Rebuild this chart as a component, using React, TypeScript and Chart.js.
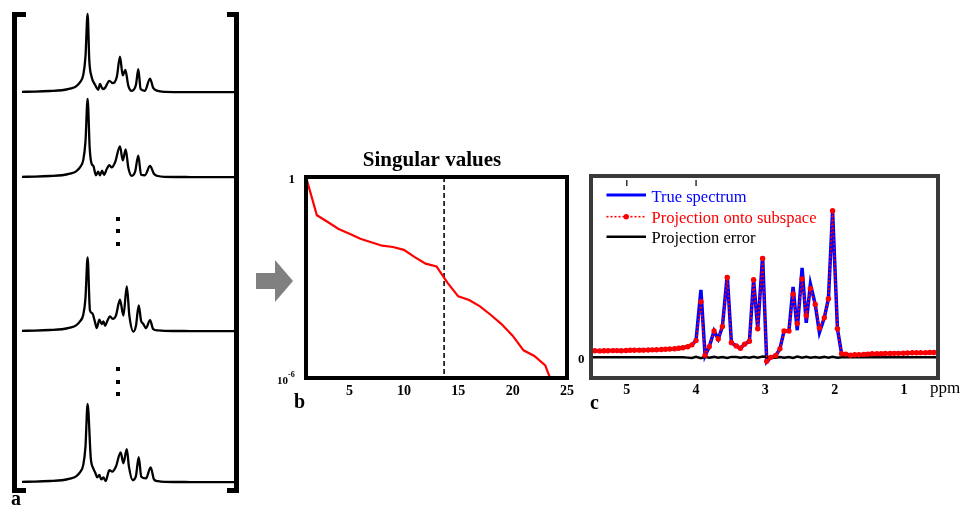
import React, { useEffect, useRef } from "react";
import { Chart, registerables } from "chart.js";

Chart.register(...registerables);

const SERIF = '"Liberation Serif", "Times New Roman", Times, serif';

// ---------------- Panel a: example spectra (frequency index 0..100, normalised amplitude) ----------------
const specX1 = [0, 6.1, 13.1, 18.8, 22.5, 25.4, 27.2, 28.8, 29.8, 30.8, 31.6, 32.7, 34.3, 35.8, 36.6, 37.9, 39.0, 41.0, 42.6, 44.5, 46.0, 47.3, 48.5, 49.9, 51.5, 53.5, 54.6, 55.7, 57.7, 60.1, 61.6, 63.4, 67.1, 78.9, 100];
const specY1 = [0, 0.003, 0.01, 0.02, 0.04, 0.07, 0.12, 0.22, 0.45, 1.0, 0.40, 0.19, 0.09, 0.026, 0.10, 0.035, 0.05, 0.14, 0.11, 0.19, 0.45, 0.21, 0.28, 0.08, 0.013, 0.09, 0.29, 0.035, 0.013, 0.17, 0.05, 0.015, 0, -0.003, -0.005];

const specX2 = [0, 6.1, 13.1, 18.8, 22.5, 25.4, 27.2, 28.8, 29.8, 30.8, 31.8, 32.7, 33.5, 34.7, 35.8, 36.6, 37.6, 38.5, 39.8, 41.0, 42.1, 43.7, 46.0, 47.3, 48.7, 49.9, 51.5, 53.1, 54.6, 55.9, 57.7, 60.1, 62.0, 63.8, 67.1, 78.9, 100];
const specY2 = [0, 0.003, 0.01, 0.02, 0.04, 0.07, 0.12, 0.22, 0.45, 1.0, 0.36, 0.165, 0.14, 0.02, 0.065, 0.02, 0.078, 0.026, 0.10, 0.15, 0.12, 0.186, 0.39, 0.21, 0.35, 0.12, 0.013, 0.065, 0.27, 0.026, 0.02, 0.14, 0.035, 0.01, 0, -0.003, -0.005];

const specX3 = [0, 6.1, 13.1, 18.8, 22.5, 25.4, 27.2, 28.8, 29.8, 30.8, 31.9, 33.0, 34.3, 35.1, 36.3, 37.4, 38.2, 39.0, 40.1, 41.3, 42.6, 44.1, 46.0, 47.6, 49.2, 50.4, 52.3, 53.5, 54.8, 55.9, 57.0, 58.2, 60.1, 61.6, 63.8, 67.1, 78.9, 100];
const specY3 = [0, 0.003, 0.01, 0.02, 0.04, 0.07, 0.12, 0.21, 0.42, 0.94, 0.26, 0.225, 0.108, 0.035, 0.143, 0.087, 0.121, 0.065, 0.13, 0.186, 0.152, 0.195, 0.398, 0.195, 0.57, 0.195, -0.01, 0.065, 0.325, 0.13, 0.087, 0.035, 0.138, 0.022, 0.005, 0, -0.003, -0.005];

const specX4 = [0, 6.1, 13.1, 18.8, 22.5, 25.4, 27.2, 28.8, 29.8, 30.8, 32.3, 33.5, 34.4, 35.3, 36.3, 37.2, 38.2, 39.3, 41.0, 42.4, 44.1, 46.3, 47.6, 49.2, 50.2, 52.0, 53.5, 54.8, 56.0, 58.2, 60.4, 62.0, 63.8, 67.1, 78.9, 100];
const specY4 = [0, 0.003, 0.01, 0.02, 0.04, 0.07, 0.12, 0.22, 0.45, 1.0, 0.30, 0.17, 0.117, 0.056, 0.087, 0.03, 0.056, 0.01, 0.15, 0.13, 0.195, 0.377, 0.238, 0.42, 0.195, 0.02, 0.074, 0.316, 0.065, 0.043, 0.186, 0.03, 0.008, 0, -0.003, -0.005];

// ---------------- Panel b: singular values ----------------
const svIndex = [1, 2, 3, 4, 5, 6, 7, 8, 9, 10, 11, 12, 13, 14, 15, 16, 17, 18, 19, 20, 21, 22, 23, 24];
const singularValues = [1, 0.0724, 0.0454, 0.0281, 0.0201, 0.0144, 0.0113, 0.00891, 0.00813, 0.0067, 0.00407, 0.00259, 0.00213, 0.000701, 0.000274, 0.000213, 0.000138, 7.6e-5, 4.0e-5, 1.84e-5, 6.7e-6, 4.54e-6, 2.39e-6, 3.3e-7];
const svCutoff = 13.7;
const svXTicks = [5, 10, 15, 20, 25];
const svTitle = "Singular values";

// ---------------- Panel c: spectrum vs projection ----------------
const ppm = [5.52, 5.46, 5.39, 5.33, 5.27, 5.20, 5.14, 5.08, 5.01, 4.95, 4.89, 4.82, 4.76, 4.69, 4.63, 4.57, 4.50, 4.44, 4.38, 4.31, 4.25, 4.19, 4.12, 4.06, 4.00, 3.93, 3.87, 3.81, 3.74, 3.68, 3.62, 3.55, 3.49, 3.42, 3.36, 3.30, 3.23, 3.17, 3.11, 3.04, 2.98, 2.92, 2.85, 2.79, 2.73, 2.66, 2.60, 2.54, 2.47, 2.41, 2.35, 2.28, 2.22, 2.15, 2.09, 2.03, 1.96, 1.90, 1.84, 1.77, 1.71, 1.65, 1.58, 1.52, 1.46, 1.39, 1.33, 1.27, 1.20, 1.14, 1.08, 1.01, 0.95, 0.88, 0.82, 0.76, 0.69, 0.63, 0.57, 0.50];
const projection = [0.045, 0.045, 0.044, 0.045, 0.045, 0.046, 0.046, 0.045, 0.047, 0.048, 0.048, 0.049, 0.049, 0.050, 0.051, 0.052, 0.053, 0.055, 0.057, 0.059, 0.062, 0.065, 0.072, 0.085, 0.115, 0.38, 0.015, 0.072, 0.18, 0.125, 0.21, 0.545, 0.10, 0.078, 0.062, 0.09, 0.11, 0.53, 0.195, 0.675, -0.027, 0.0, 0.012, 0.058, 0.18, 0.18, 0.43, 0.23, 0.535, 0.285, 0.47, 0.36, 0.2, 0.27, 0.4, 1.0, 0.195, 0.024, 0.022, 0.015, 0.018, 0.018, 0.02, 0.022, 0.024, 0.025, 0.025, 0.026, 0.026, 0.027, 0.027, 0.028, 0.030, 0.031, 0.031, 0.032, 0.032, 0.033, 0.033, 0.034];
const trueSpectrum = [0.045, 0.045, 0.044, 0.045, 0.045, 0.046, 0.046, 0.045, 0.047, 0.048, 0.048, 0.049, 0.049, 0.050, 0.051, 0.052, 0.053, 0.055, 0.057, 0.059, 0.062, 0.065, 0.072, 0.085, 0.115, 0.46, 0.012, 0.072, 0.18, 0.125, 0.21, 0.56, 0.10, 0.078, 0.062, 0.09, 0.11, 0.53, 0.195, 0.69, -0.03, 0.0, 0.012, 0.058, 0.18, 0.18, 0.48, 0.185, 0.61, 0.235, 0.50, 0.36, 0.17, 0.27, 0.4, 1.0, 0.195, 0.024, 0.022, 0.015, 0.018, 0.018, 0.02, 0.022, 0.024, 0.025, 0.025, 0.026, 0.026, 0.027, 0.027, 0.028, 0.030, 0.031, 0.031, 0.032, 0.032, 0.033, 0.033, 0.034];
const projError = [0, 0, 0, 0, 0, 0, 0, 0, 0, 0, 0, 0, 0, 0, 0, 0, 0, 0, 0, 0, 0, 0, -0.002, -0.004, 0.003, -0.006, 0.004, -0.002, 0.003, -0.003, 0.002, -0.004, 0.003, 0.002, -0.002, 0.002, -0.003, 0.004, -0.002, 0.005, 0.004, -0.001, -0.002, 0.002, -0.003, 0.002, -0.004, 0.005, -0.003, 0.004, -0.003, 0.002, -0.002, 0.003, -0.002, 0.004, -0.003, 0.001, 0, 0, 0, 0, 0, 0, 0, 0, 0, 0, 0, 0, 0, 0, 0, 0, 0, 0, 0, 0, 0, 0];
const ppmTicks = [5, 4, 3, 2, 1];
const ppmTopTicks = [5, 4];
const legendLabels = ["True spectrum", "Projection onto subspace", "Projection error"];

const RED = "#ff0000";
const BLUE = "#0000ff";

// ---------------- helpers ----------------
function ChartBox({ left, top, width, height, config }: { left: number; top: number; width: number; height: number; config: () => any }) {
  const ref = useRef<HTMLCanvasElement | null>(null);
  useEffect(() => {
    if (!ref.current) return;
    const chart = new Chart(ref.current, config());
    return () => chart.destroy();
  }, []);
  return (
    <canvas
      ref={ref}
      width={width}
      height={height}
      style={{ position: "absolute", left, top, width, height, display: "block" }}
    />
  );
}

const UNIT = 78; // px per unit amplitude for panel a spectra
const SPEC_PAD = 4;
const SPEC_AREA_H = 94;
const SPEC_YMAX = 1.1;

function spectrumConfig(xs: number[], ys: number[]) {
  return {
    type: "line",
    data: {
      datasets: [
        {
          data: xs.map((x, i) => ({ x, y: ys[i] })),
          borderColor: "#000",
          borderWidth: 2.3,
          pointRadius: 0,
          cubicInterpolationMode: "monotone",
          clip: false,
        },
      ],
    },
    options: {
      animation: false,
      responsive: false,
      devicePixelRatio: 1,
      events: [],
      layout: { padding: SPEC_PAD },
      plugins: { legend: { display: false }, tooltip: { enabled: false } },
      scales: {
        x: { type: "linear", min: 0, max: 100, display: false },
        y: { type: "linear", min: SPEC_YMAX - SPEC_AREA_H / UNIT, max: SPEC_YMAX, display: false },
      },
    },
  };
}

function Spectrum({ xs, ys, baseline }: { xs: number[]; ys: number[]; baseline: number }) {
  const top = Math.round(baseline - SPEC_YMAX * UNIT - SPEC_PAD);
  return <ChartBox left={22 - SPEC_PAD} top={top} width={213 + 2 * SPEC_PAD} height={SPEC_AREA_H + 2 * SPEC_PAD} config={() => spectrumConfig(xs, ys)} />;
}

// ---------------- panel b ----------------
const B_LEFT = 255, B_TOP = 140, B_W = 320, B_H = 280;
function panelBConfig() {
  const plugin = {
    id: "panelB",
    beforeDatasetsDraw(chart: any) {
      const { ctx, chartArea: a, scales } = chart;
      const x = scales.x.getPixelForValue(svCutoff);
      ctx.save();
      ctx.strokeStyle = "#222";
      ctx.lineWidth = 1.8;
      ctx.setLineDash([5, 3]);
      ctx.beginPath();
      ctx.moveTo(x, a.top);
      ctx.lineTo(x, a.bottom);
      ctx.stroke();
      ctx.restore();
    },
    afterDatasetsDraw(chart: any) {
      const { ctx, chartArea: a, scales } = chart;
      ctx.save();
      ctx.strokeStyle = "#000";
      ctx.lineWidth = 4;
      ctx.strokeRect(a.left, a.top, a.right - a.left, a.bottom - a.top);
      ctx.fillStyle = "#000";
      // x tick labels
      ctx.font = `bold 14px ${SERIF}`;
      ctx.textAlign = "center";
      ctx.textBaseline = "alphabetic";
      svXTicks.forEach((v) => ctx.fillText(String(v), scales.x.getPixelForValue(v), a.bottom + 17));
      // y labels
      ctx.textAlign = "right";
      ctx.font = `bold 13px ${SERIF}`;
      ctx.fillText("1", a.left - 11, scales.y.getPixelForValue(1) + 6);
      const yb = scales.y.getPixelForValue(1e-6);
      ctx.font = `bold 11px ${SERIF}`;
      ctx.fillText("10", a.left - 18, yb + 6);
      ctx.textAlign = "left";
      ctx.font = `bold 8px ${SERIF}`;
      ctx.fillText("-6", a.left - 18, yb - 1);
      // title
      ctx.textAlign = "center";
      ctx.font = `bold 21px ${SERIF}`;
      ctx.fillText(svTitle, (a.left + a.right) / 2 - 4.5, a.top - 11);
      // panel letter
      ctx.textAlign = "left";
      ctx.font = `bold 20px ${SERIF}`;
      ctx.fillText("b", a.left - 12, a.bottom + 30);
      ctx.restore();
    },
  };
  return {
    type: "line",
    data: {
      datasets: [
        {
          data: svIndex.map((x, i) => ({ x, y: singularValues[i] })),
          borderColor: RED,
          borderWidth: 2.2,
          pointRadius: 0,
          tension: 0,
        },
      ],
    },
    options: {
      animation: false,
      responsive: false,
      devicePixelRatio: 1,
      events: [],
      layout: { padding: { left: 51, right: 8, top: 37, bottom: 42 } },
      plugins: { legend: { display: false }, tooltip: { enabled: false } },
      scales: {
        x: { type: "linear", min: 1, max: 25, display: false },
        y: { type: "logarithmic", min: 1e-6, max: 1, display: false },
      },
    },
    plugins: [plugin],
  };
}

// ---------------- panel c ----------------
const C_LEFT = 575, C_TOP = 165, C_W = 388, C_H = 245;
function panelCConfig() {
  const plugin = {
    id: "panelC",
    afterDatasetsDraw(chart: any) {
      const { ctx, chartArea: a, scales } = chart;
      ctx.save();
      ctx.strokeStyle = "#3a3a3a";
      ctx.lineWidth = 4;
      ctx.strokeRect(a.left, a.top, a.right - a.left, a.bottom - a.top);
      // top ticks
      ctx.lineWidth = 1.5;
      ctx.strokeStyle = "#333";
      ppmTopTicks.forEach((v) => {
        const x = scales.x.getPixelForValue(v);
        ctx.beginPath();
        ctx.moveTo(x, a.top + 4);
        ctx.lineTo(x, a.top + 10);
        ctx.stroke();
      });
      // tick labels
      ctx.fillStyle = "#000";
      ctx.font = `bold 14px ${SERIF}`;
      ctx.textAlign = "center";
      ctx.textBaseline = "alphabetic";
      ppmTicks.forEach((v) => ctx.fillText(String(v), scales.x.getPixelForValue(v), a.bottom + 16));
      ctx.font = `17px ${SERIF}`;
      ctx.fillText("ppm", a.right + 7, a.bottom + 14.5);
      ctx.textAlign = "right";
      ctx.font = `bold 13px ${SERIF}`;
      ctx.fillText("0", a.left - 6.5, scales.y.getPixelForValue(0) + 5.5);
      // legend
      const sx0 = a.left + 15.5, sx1 = a.left + 55, tx = a.left + 60.5;
      const rows = [a.top + 19, a.top + 40.7, a.top + 60.7];
      const colors = [BLUE, RED, "#000"];
      ctx.lineCap = "butt";
      // blue
      ctx.strokeStyle = BLUE; ctx.lineWidth = 3;
      ctx.beginPath(); ctx.moveTo(sx0, rows[0]); ctx.lineTo(sx1, rows[0]); ctx.stroke();
      // red dotted with marker
      ctx.strokeStyle = RED; ctx.lineWidth = 1.6; ctx.setLineDash([2, 2]);
      ctx.beginPath(); ctx.moveTo(sx0, rows[1]); ctx.lineTo(sx1, rows[1]); ctx.stroke();
      ctx.setLineDash([]);
      ctx.fillStyle = RED;
      ctx.beginPath(); ctx.arc((sx0 + sx1) / 2, rows[1], 2.7, 0, Math.PI * 2); ctx.fill();
      // black
      ctx.strokeStyle = "#000"; ctx.lineWidth = 2.5;
      ctx.beginPath(); ctx.moveTo(sx0, rows[2]); ctx.lineTo(sx1, rows[2]); ctx.stroke();
      ctx.font = `16.5px ${SERIF}`;
      ctx.textAlign = "left";
      legendLabels.forEach((t, i) => {
        ctx.fillStyle = colors[i];
        ctx.fillText(t, tx, rows[i] + 6.5);
      });
      // panel letter
      ctx.fillStyle = "#000";
      ctx.font = `bold 20px ${SERIF}`;
      ctx.fillText("c", a.left - 1, a.bottom + 31);
      ctx.restore();
    },
  };
  return {
    type: "line",
    data: {
      datasets: [
        {
          label: legendLabels[1],
          data: ppm.map((x, i) => ({ x, y: projection[i] })),
          borderColor: RED,
          borderWidth: 1.6,
          borderDash: [2, 2],
          pointRadius: 2.7,
          pointBackgroundColor: RED,
          pointBorderWidth: 0,
          order: 0,
        },
        {
          label: legendLabels[2],
          data: ppm.map((x, i) => ({ x, y: projError[i] })),
          borderColor: "#000",
          borderWidth: 2.5,
          pointRadius: 0,
          order: 1,
        },
        {
          label: legendLabels[0],
          data: ppm.map((x, i) => ({ x, y: trueSpectrum[i] })),
          borderColor: BLUE,
          borderWidth: 3.5,
          pointRadius: 0,
          order: 2,
        },
      ],
    },
    options: {
      animation: false,
      responsive: false,
      devicePixelRatio: 1,
      events: [],
      layout: { padding: { left: 16, right: 25, top: 11, bottom: 32 } },
      plugins: { legend: { display: false }, tooltip: { enabled: false } },
      scales: {
        x: { type: "linear", min: 0.509, max: 5.516, reverse: true, display: false },
        y: { type: "linear", min: -0.141, max: 1.237, display: false },
      },
    },
    plugins: [plugin],
  };
}

// ---------------- decorations ----------------
const box = (left: number, top: number, width: number, height: number, bg = "#000"): React.CSSProperties => ({
  position: "absolute", left, top, width, height, background: bg,
});

export default function App() {
  return (
    <div style={{ position: "fixed", left: 0, top: 0, width: 963, height: 514, background: "#fff", overflow: "hidden" }}>
      {/* brackets */}
      <div style={box(12, 12, 5, 481)} />
      <div style={box(12, 12, 14, 5)} />
      <div style={box(12, 488, 14, 5)} />
      <div style={box(234, 12, 5, 481)} />
      <div style={box(227, 12, 12, 5)} />
      <div style={box(227, 488, 12, 5)} />
      {/* vertical ellipses */}
      {[217, 229, 242, 367, 380, 392].map((y) => (
        <div key={y} style={box(116, y, 4, 4)} />
      ))}
      {/* spectra */}
      <Spectrum xs={specX1} ys={specY1} baseline={92} />
      <Spectrum xs={specX2} ys={specY2} baseline={177} />
      <Spectrum xs={specX3} ys={specY3} baseline={331} />
      <Spectrum xs={specX4} ys={specY4} baseline={482} />
      <div style={{ position: "absolute", left: 11, top: 488, fontFamily: SERIF, fontWeight: "bold", fontSize: 20, lineHeight: "20px" }}>a</div>
      {/* arrow */}
      <div style={box(256, 273, 20, 16, "#808080")} />
      <div style={{ position: "absolute", left: 275, top: 260, width: 0, height: 0, borderTop: "21px solid transparent", borderBottom: "21px solid transparent", borderLeft: "18px solid #808080" }} />
      {/* panels b and c */}
      <ChartBox left={B_LEFT} top={B_TOP} width={B_W} height={B_H} config={panelBConfig} />
      <ChartBox left={C_LEFT} top={C_TOP} width={C_W} height={C_H} config={panelCConfig} />
    </div>
  );
}
